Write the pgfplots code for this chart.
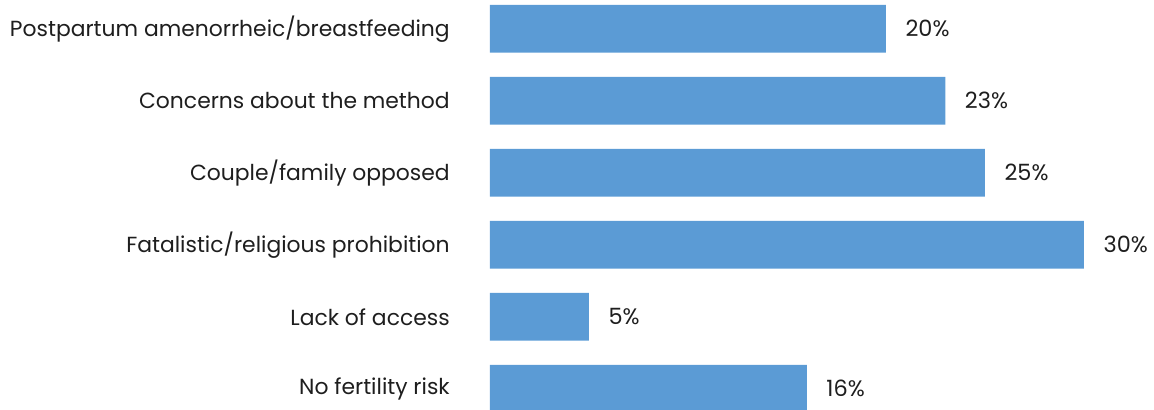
\documentclass[border=0pt]{standalone}
\usepackage{pgfplots}
\pgfplotsset{compat=1.18}
\usepackage{fontspec}
\setmainfont{Poppins}
\definecolor{barc}{HTML}{5B9BD5}
\definecolor{txt}{HTML}{1E1E1E}
\begin{document}
\begin{tikzpicture}
\path[use as bounding box] (0,0) rectangle (865.5pt,-307.5pt);
\begin{axis}[
 at={(367.5pt,5.36pt)}, anchor=north west,
 scale only axis, width=445.5pt, height=324pt,
 xmin=0, xmax=30, ymin=-0.5, ymax=5.5, y dir=reverse,
 xbar, bar width=35.8pt, bar shift=0pt,
 hide x axis, axis line style={draw=none}, major tick length=0pt,
 ytick={0,...,5},
 yticklabels={Postpartum amenorrheic/breastfeeding, Concerns about the method, Couple/family opposed, Fatalistic/religious prohibition, Lack of access, No fertility risk},
 yticklabel style={font=\fontsize{16.4}{19}\selectfont, text=txt, inner sep=0pt, xshift=-30pt},
 nodes near coords={\pgfmathprintnumber{\pgfplotspointmeta}\%},
 nodes near coords style={font=\fontsize{16.8}{19}\selectfont, text=txt, anchor=west, inner sep=0pt, xshift=14.5pt},
 /pgf/number format/assume math mode=true,
 clip=false,
]
\addplot[fill=barc, draw=none] coordinates {(20,0) (23,1) (25,2) (30,3) (5,4) (16,5)};
\end{axis}
\end{tikzpicture}
\end{document}
